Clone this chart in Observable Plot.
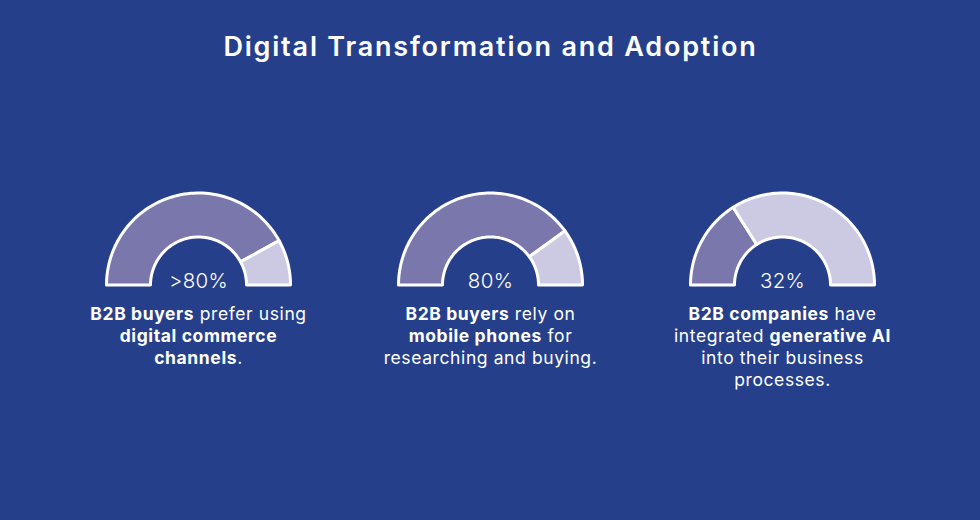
<!DOCTYPE html>
<html><head><meta charset="utf-8">
<script src="https://cdn.jsdelivr.net/npm/d3@7"></script>
<script src="https://cdn.jsdelivr.net/npm/@observablehq/plot@0.6"></script>
<style>
html,body{margin:0;padding:0;background:#263F8A;}
#chart svg{display:block;}
</style>
</head><body><div id="chart"></div>
<script>
// ---- data ----
const title = "Digital Transformation and Adoption";
const categories = ["Digital commerce", "Mobile phones", "Generative AI"];
const shares = [84, 80, 32];              // % shown by the dark segment
const valueLabels = [">80%", "80%", "32%"];
const captions = [
  ["**B2B buyers** prefer using", "**digital commerce**", "**channels**."],
  ["**B2B buyers** rely on", "**mobile phones** for", "researching and buying."],
  ["**B2B companies** have", "integrated **generative AI**", "into their business", "processes."]
];

// ---- layout constants ----
const W = 980, H = 520;
const PX = 292;                 // pixels per data unit (one gauge slot)
const baseY = (H - 284.5) / PX; // gauge baseline in data units
const R = 92 / PX, r = 48 / PX; // outer / inner radius in data units
const captionStart = 29.5 / PX, lineH = 22 / PX;

const colDark = "#7A77AC", colLight = "#CBCAE2";

function segment(i, a0, a1, key) {
  const n = 80, pts = [];
  for (let k = 0; k <= n; k++) {
    const a = a0 + (a1 - a0) * k / n;
    pts.push({key, x: i + R * Math.cos(a), y: baseY + R * Math.sin(a)});
  }
  for (let k = n; k >= 0; k--) {
    const a = a0 + (a1 - a0) * k / n;
    pts.push({key, x: i + r * Math.cos(a), y: baseY + r * Math.sin(a)});
  }
  pts.push({...pts[0]});
  return pts;
}
const darkPts = [], lightPts = [];
categories.forEach((c, i) => {
  const split = Math.PI * (1 - shares[i] / 100);
  darkPts.push(...segment(i, Math.PI, split, c + "-dark"));
  lightPts.push(...segment(i, split, 0, c + "-light"));
});

const labelData = categories.map((c, i) => ({x: i, y: baseY, text: valueLabels[i]}));
const lineData = [];
captions.forEach((lines, i) => lines.forEach((t, j) =>
  lineData.push({x: i, y: baseY - captionStart - j * lineH, text: t})));

function spacing(px) {
  return (index, scales, values, dims, ctx, next) => {
    const g = next(index, scales, values, dims, ctx);
    g.setAttribute("letter-spacing", px);
    return g;
  };
}

function richRender(index, scales, values, dims, ctx, next) {
  const g = next(index, scales, values, dims, ctx);
  g.setAttribute("letter-spacing", "0.6");
  const texts = g.querySelectorAll("text");
  texts.forEach((t, k) => {
    const s = lineData[index[k]].text;
    t.textContent = "";
    s.split("**").forEach((part, p) => {
      if (!part) return;
      const ts = document.createElementNS("http://www.w3.org/2000/svg", "tspan");
      ts.textContent = part;
      if (p % 2 === 1) ts.setAttribute("font-weight", "700");
      t.appendChild(ts);
    });
  });
  return g;
}

const chart = Plot.plot({
  width: W, height: H,
  margin: 0,
  style: {background: "#263F8A", fontFamily: "Inter, 'Open Sans', sans-serif", color: "white"},
  x: {domain: [-0.5, 2.5], range: [52, 928], axis: null},
  y: {domain: [0, H / PX], axis: null},
  marks: [
    Plot.line(darkPts, {x: "x", y: "y", z: "key", fill: colDark, stroke: "white", strokeWidth: 3, strokeLinejoin: "round", curve: "linear"}),
    Plot.line(lightPts, {x: "x", y: "y", z: "key", fill: colLight, stroke: "white", strokeWidth: 3, strokeLinejoin: "round", curve: "linear"}),
    Plot.text(labelData, {x: "x", y: "y", text: "text", dy: -4, fontSize: 20.5, fontWeight: 300, fill: "white", render: spacing("0.3")}),
    Plot.text(lineData, {x: "x", y: "y", text: "text", fontSize: 17.5, fontWeight: 400, fill: "white", render: richRender}),
    Plot.text([title], {frameAnchor: "top", dy: 36.5, text: d => d, fontSize: 27, fontWeight: 600, fill: "white", render: spacing("1.8")})
  ]
});
document.getElementById("chart").appendChild(chart);
</script>
</body></html>
